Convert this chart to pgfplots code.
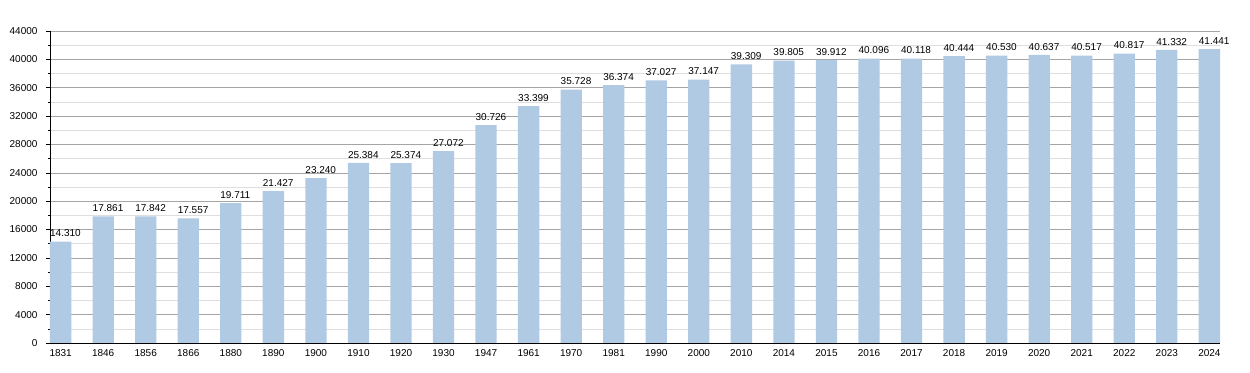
\documentclass[border=0pt]{standalone}
\usepackage{fontspec}
\setmainfont{Liberation Sans}
\usepackage{pgfplots}
\pgfplotsset{compat=1.18}
\definecolor{barc}{RGB}{177,202,228}
\definecolor{majg}{RGB}{165,165,165}
\definecolor{ming}{RGB}{222,222,222}
\begin{document}
\begin{tikzpicture}
\begin{axis}[
  scale only axis, width=1170pt, height=312pt,
  ybar, bar width=21.3pt,
  xmin=-0.25, xmax=27.25, ymin=0, ymax=44000,
  axis lines*=left,
  axis line style={black, line width=0.8pt},
  ytick={0,4000,...,44000},
  minor ytick={2000,6000,...,42000},
  scaled y ticks=false,
  ymajorgrids, yminorgrids,
  major grid style={color=majg, line width=0.6pt},
  minor grid style={color=ming, line width=0.6pt},
  xtick={0,...,27},
  xticklabels={1831,1846,1856,1866,1880,1890,1900,1910,1920,1930,1947,1961,1970,1981,1990,2000,2010,2014,2015,2016,2017,2018,2019,2020,2021,2022,2023,2024},
  x tick style={draw=none},
  major x tick style={draw=none},
  tick align=outside,
  y tick style={black, line width=0.6pt},
  major tick length=4pt, minor tick length=2pt,
  /pgf/number format/assume math mode=true,
  /pgf/number format/1000 sep={},
  ticklabel style={font=\fontsize{10}{12}\selectfont},
  yticklabel style={xshift=-5pt},
  xticklabel style={yshift=1pt},
  nodes near coords,
  every node near coord/.append style={font=\fontsize{10}{12}\selectfont, /pgf/number format/1000 sep={.}, /pgf/number format/fixed, /pgf/number format/precision=0, /pgf/number format/assume math mode=true, inner sep=0pt, anchor=south west, xshift=-10.65pt, yshift=4.5pt, black},
]
\addplot[fill=barc, draw=none] coordinates {
(0,14310) (1,17861) (2,17842) (3,17557) (4,19711) (5,21427) (6,23240) (7,25384) (8,25374) (9,27072)
(10,30726) (11,33399) (12,35728) (13,36374) (14,37027) (15,37147) (16,39309) (17,39805) (18,39912) (19,40096)
(20,40118) (21,40444) (22,40530) (23,40637) (24,40517) (25,40817) (26,41332) (27,41441)
};
\coordinate (sw) at (rel axis cs:0,0);
\coordinate (ne) at (rel axis cs:1,1);
\end{axis}
\pgfresetboundingbox
\path ([shift={(-50pt,-30pt)}]sw) rectangle ([shift={(30pt,31pt)}]ne);
\end{tikzpicture}
\end{document}
